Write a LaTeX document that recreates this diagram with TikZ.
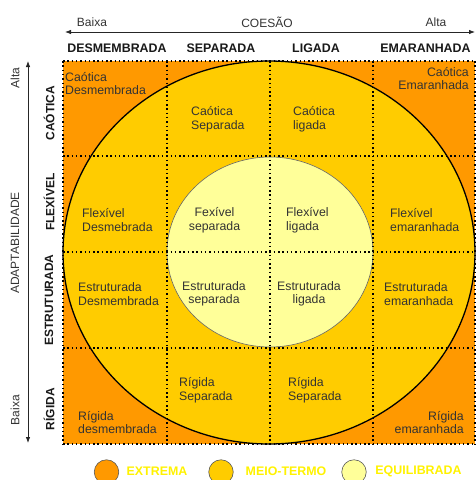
\documentclass[tikz,border=0pt]{standalone}
\usepackage{fontspec}
\setmainfont{Liberation Sans}
\usetikzlibrary{arrows.meta}
\definecolor{extrema}{HTML}{FF9900}
\definecolor{meio}{HTML}{FFCC00}
\definecolor{equil}{HTML}{FFFF99}
\definecolor{txt}{HTML}{333333}
\definecolor{legtxt}{HTML}{FFF200}
\begin{document}
\begin{tikzpicture}[x=1pt,y=-1pt,
  cell/.style={font=\fontsize{12.3}{13.5}\selectfont, text=txt, inner sep=0pt},
  head/.style={font=\fontsize{12.4}{14}\selectfont\bfseries, text=black!90, inner sep=0pt},
  rowlab/.style={font=\fontsize{12}{14}\selectfont\bfseries, text=black!90, inner sep=0pt, rotate=90},
  axl/.style={font=\fontsize{12}{14}\selectfont, text=black!80, inner sep=0pt},
  gridline/.style={line width=1.5pt, dash pattern=on 1.5pt off 2.8pt, black},
  axisline/.style={line width=0.8pt, black!85, {Latex[length=6pt,width=4.5pt]}-{Latex[length=6pt,width=4.5pt]}},
  leg/.style={font=\fontsize{12.4}{14}\selectfont\bfseries, text=legtxt, inner sep=0pt},
  legdot/.style={circle, draw=black!65, line width=0.6pt, minimum size=24.5pt, inner sep=0pt}]
\useasboundingbox (0,0) rectangle (476,480);
% regions
\fill[extrema] (63,61) rectangle (475,444);
\draw[fill=meio, line width=1.3pt] (269,252.5) ellipse [x radius=206pt, y radius=191.5pt];
\draw[fill=equil, draw=black!60, line width=0.6pt] (270,252) ellipse [x radius=103pt, y radius=95pt];
% dotted grid
\foreach \x in {63,167,270,373,475} \draw[gridline] (\x,61) -- (\x,444);
\foreach \y in {61,156,252,348,444} \draw[gridline] (63,\y) -- (475,\y);
% axes
\coordinate (hL) at (65,32);
\coordinate (hR) at (475,32);
\coordinate (vT) at (28,61);
\coordinate (vB) at (28,443);
\draw[axisline] (hL) -- (hR);
\draw[axisline] (vT) -- (vB);
\node[axl] (baixaH) at (92,22) {Baixa};
\node[axl] (coesao) at (267,22) {COESÃO};
\node[axl] (altaH) at (436,22) {Alta};
\node[axl, rotate=90] (altaV) at (15,78) {Alta};
\node[axl, rotate=90] (adapt) at (15,243) {ADAPTABILIDADE};
\node[axl, rotate=90] (baixaV) at (15,410) {Baixa};
% column headers
\node[head] (c1) at (117,48) {DESMEMBRADA};
\node[head] (c2) at (221,48) {SEPARADA};
\node[head] (c3) at (316,48) {LIGADA};
\node[head] (c4) at (425.5,48) {EMARANHADA};
% row headers
\node[rowlab] (r1) at (49,113) {CAÓTICA};
\node[rowlab] (r2) at (49,202) {FLEXÍVEL};
\node[rowlab] (r3) at (49,300) {ESTRUTURADA};
\node[rowlab] (r4) at (49,409) {RÍGIDA};
% cells
\node[cell, anchor=west, align=left] (a11) at (65,83.5) {Caótica\\Desmembrada};
\node[cell, anchor=west, align=left] (a12) at (191,119) {Caótica\\Separada};
\node[cell, anchor=west, align=left] (a13) at (293,119) {Caótica\\ligada};
\node[cell, anchor=east, align=right] (a14) at (469,78.5) {Caótica\\Emaranhada};
\node[cell, anchor=west, align=left] (a21) at (82,220) {Flexível\\Desmebrada};
\node[cell, align=center] (a22) at (214.5,220) {Fexível\\separada};
\node[cell, anchor=west, align=left] (a23) at (286,220) {Flexível\\ligada};
\node[cell, anchor=west, align=left] (a24) at (390,220) {Flexível\\emaranhada};
\node[cell, anchor=west, align=left] (a31) at (78,294) {Estruturada\\Desmembrada};
\node[cell, align=center] (a32) at (214,294) {Estruturada\\separada};
\node[cell, align=center] (a33) at (309,294) {Estruturada\\ligada};
\node[cell, anchor=west, align=left] (a34) at (384,294) {Estruturada\\emaranhada};
\node[cell, anchor=west, align=left] (a41) at (78,422.5) {Rígida\\desmembrada};
\node[cell, anchor=west, align=left] (a42) at (179,390) {Rígida\\Separada};
\node[cell, anchor=west, align=left] (a43) at (288,390) {Rígida\\Separada};
\node[cell, anchor=east, align=right] (a44) at (464,422.5) {Rígida\\emaranhada};
% legend
\node[legdot, fill=extrema] (l1) at (106.5,472) {};
\node[leg] (t1) at (157,471) {EXTREMA};
\node[legdot, fill=meio] (l2) at (221,472) {};
\node[leg] (t2) at (286,471) {MEIO-TERMO};
\node[legdot, fill=equil] (l3) at (354,472) {};
\node[leg] (t3) at (418.5,471) {EQUILIBRADA};
\end{tikzpicture}
\end{document}
